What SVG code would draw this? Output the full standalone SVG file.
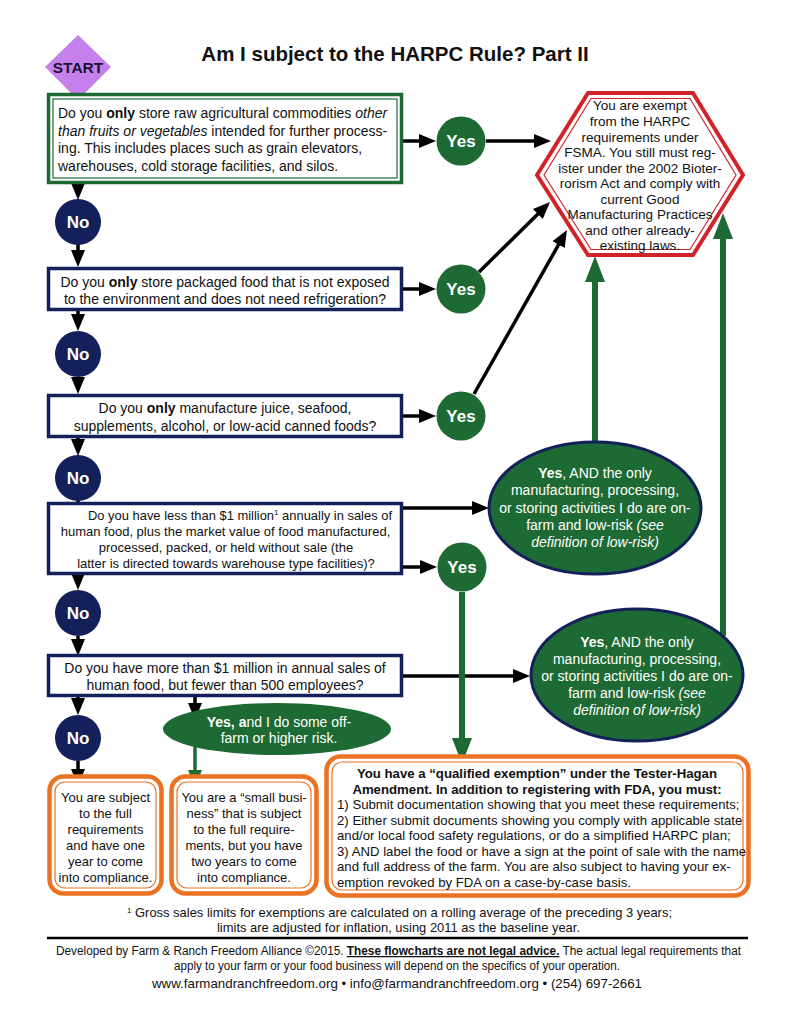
<svg xmlns="http://www.w3.org/2000/svg" width="791" height="1024" viewBox="0 0 791 1024">
<style>
text{font-family:"Liberation Sans",Arial,sans-serif;fill:#111;}
.t{font-size:14px;}
.s{font-size:13px;}
.c{text-anchor:middle;}
.w{fill:#fff;}
.b{font-weight:bold;}
.i{font-style:italic;}
.navy{fill:#fff;stroke:#13205a;stroke-width:3.5;}
.grn{fill:#fff;stroke:#1e6a34;}
.org{fill:#fff;stroke:#ec7223;}
.red{fill:#fff;stroke:#d2232a;}
.yes{fill:#1e6a34;}
.no{fill:#13205a;}
.lbl{font-size:17px;font-weight:bold;fill:#fff;text-anchor:middle;}
.k{stroke:#000;stroke-width:3.5;fill:none;marker-end:url(#ab);}
.gb{stroke:#1e6a34;stroke-width:6;fill:none;marker-end:url(#ag);}
.gs{stroke:#1e6a34;stroke-width:3.5;fill:none;marker-end:url(#as);}
</style>
<defs>
<marker id="ab" markerUnits="userSpaceOnUse" markerWidth="18" markerHeight="14" refX="10" refY="7" orient="auto"><path d="M0,0 L17,7 L0,14 z" fill="#000"/></marker>
<marker id="as" markerUnits="userSpaceOnUse" markerWidth="18" markerHeight="14" refX="10" refY="7" orient="auto"><path d="M0,0 L17,7 L0,14 z" fill="#1e6a34"/></marker>
<marker id="ag" markerUnits="userSpaceOnUse" markerWidth="26" markerHeight="20" refX="16" refY="10" orient="auto"><path d="M0,0 L26,10 L0,20 z" fill="#1e6a34"/></marker>
</defs>
<rect width="791" height="1024" fill="#fff"/>
<text x="395" y="61" class="c b" style="font-size:20.5px">Am I subject to the HARPC Rule? Part II</text>

<g id="connectors">
<path class="k" d="M78,184 V193"/>
<path class="k" d="M78,244 V260"/>
<path class="k" d="M78,311 V324"/>
<path class="k" d="M78,377 V387"/>
<path class="k" d="M78,438 V449"/>
<path class="k" d="M78,500 V515"/>
<path class="k" d="M78,566 V583"/>
<path class="k" d="M78,636 V649"/>
<path class="k" d="M78,690 V708"/>
<path class="k" d="M78,761 V779"/>
<path class="k" d="M195,697 V713"/>
<path class="k" d="M403,141 H429"/>
<path class="k" d="M486,141 H544"/>
<path class="k" d="M403,289 H429"/>
<path class="k" d="M403,416 H429"/>
<path class="k" d="M403,508 H482"/>
<path class="k" d="M403,567 H430"/>
<path class="k" d="M403,676 H523"/>
<path class="k" d="M479,272 L545,207"/>
<path class="k" d="M474,394 L563.5,236"/>
<path class="gb" d="M462,592 V754"/>
<path class="gb" d="M595,441 V266"/>
<path class="gb" d="M723,636 V223"/>
<path class="gs" d="M195,747 V780"/>
</g>

<g id="start">
<polygon points="78,35 111,67 78,100 45,67" fill="#c680ec"/>
<text x="78" y="72.5" class="c b" style="font-size:15.5px;fill:#1a1030">START</text>
</g>

<g id="q1">
<rect x="48.5" y="94.5" width="353" height="88" class="grn" stroke-width="3.5"/>
<rect x="53" y="99" width="344" height="79" class="grn" stroke-width="1.2"/>
<text class="t" x="58" y="118">Do you <tspan class="b">only</tspan> store raw agricultural commodities <tspan class="i">other</tspan></text>
<text class="t" x="58" y="135.5"><tspan class="i">than fruits or vegetables</tspan> intended for further process-</text>
<text class="t" x="58" y="153">ing. This includes places such as grain elevators,</text>
<text class="t" x="58" y="170.5">warehouses, cold storage facilities, and silos.</text>
</g>

<g id="q2">
<rect x="48.5" y="268.5" width="353" height="41" class="navy"/>
<text class="t c" x="225" y="287">Do you <tspan class="b">only</tspan> store packaged food that is not exposed</text>
<text class="t c" x="225" y="303.5">to the environment and does not need refrigeration?</text>
</g>

<g id="q3">
<rect x="48.5" y="395.5" width="353" height="41" class="navy"/>
<text class="t c" x="225" y="413">Do you <tspan class="b">only</tspan> manufacture juice, seafood,</text>
<text class="t c" x="225" y="431">supplements, alcohol, or low-acid canned foods?</text>
</g>

<g id="q4">
<rect x="48.5" y="503.5" width="353" height="70" class="navy"/>
<text class="s" x="88" y="520" textLength="304" lengthAdjust="spacingAndGlyphs">Do you have less than $1 million<tspan dy="-5" style="font-size:8px">1</tspan><tspan dy="5"> annually in sales of</tspan></text>
<text class="s c" x="225.5" y="536">human food, plus the market value of food manufactured,</text>
<text class="s c" x="226" y="552">processed, packed, or held without sale (the</text>
<text class="s c" x="226" y="567.5">latter is directed towards warehouse type facilities)?</text>
</g>

<g id="q5">
<rect x="48.5" y="655.5" width="353" height="40" class="navy"/>
<text class="t c" x="225" y="673">Do you have more than $1 million in annual sales of</text>
<text class="t c" x="225" y="690">human food, but fewer than 500 employees?</text>
</g>

<g id="no1"><circle cx="78" cy="222" r="23" class="no"/><text class="lbl" x="78" y="228">No</text></g>
<g id="no2"><circle cx="78" cy="354" r="23" class="no"/><text class="lbl" x="78" y="360">No</text></g>
<g id="no3"><circle cx="78" cy="478" r="23" class="no"/><text class="lbl" x="78" y="484">No</text></g>
<g id="no4"><circle cx="78" cy="613" r="23" class="no"/><text class="lbl" x="78" y="619">No</text></g>
<g id="no5"><circle cx="78" cy="738" r="23" class="no"/><text class="lbl" x="78" y="744">No</text></g>

<g id="yes1"><circle cx="461" cy="141" r="24.5" class="yes"/><text class="lbl" x="461" y="147">Yes</text></g>
<g id="yes2"><circle cx="461" cy="289" r="24.5" class="yes"/><text class="lbl" x="461" y="295">Yes</text></g>
<g id="yes3"><circle cx="461" cy="416" r="24.5" class="yes"/><text class="lbl" x="461" y="422">Yes</text></g>
<g id="yes4"><circle cx="462" cy="567" r="24.5" class="yes"/><text class="lbl" x="462" y="573">Yes</text></g>

<g id="exempt">
<polygon points="537,175 588,93 693,93 743,175 693,255 588,255" class="red" stroke-width="4"/>
<polygon points="544,175 591,98.5 690,98.5 736,175 690,249.5 591,249.5" fill="none" stroke="#d2232a" stroke-width="1.2"/>
<g style="font-size:13.5px">
<text class="c" x="640" y="110">You are exempt</text>
<text class="c" x="640" y="126">from the HARPC</text>
<text class="c" x="640" y="141.5">requirements under</text>
<text class="c" x="640" y="157">FSMA.  You still must reg-</text>
<text class="c" x="640" y="172.5">ister under the 2002 Bioter-</text>
<text class="c" x="640" y="188">rorism Act and comply with</text>
<text class="c" x="640" y="203.5">current Good</text>
<text class="c" x="640" y="219">Manufacturing Practices</text>
<text class="c" x="640" y="234.5">and other already-</text>
<text class="c" x="640" y="250">existing laws.</text>
</g>
</g>

<g id="yes-lowrisk1">
<ellipse cx="595" cy="508" rx="106" ry="66" fill="#1e6a34" stroke="#13205a" stroke-width="3"/>
<text class="t c w" x="595" y="478"><tspan class="b w">Yes</tspan>, AND the only</text>
<text class="t c w" x="595" y="495">manufacturing, processing,</text>
<text class="t c w" x="595" y="512.5">or storing activities I do are on-</text>
<text class="t c w" x="595" y="530">farm and low-risk <tspan class="i w">(see</tspan></text>
<text class="t c w i" x="595" y="547">definition of low-risk)</text>
</g>

<g id="yes-lowrisk2">
<ellipse cx="637" cy="675" rx="106" ry="66" fill="#1e6a34" stroke="#13205a" stroke-width="3"/>
<text class="t c w" x="637" y="647"><tspan class="b w">Yes</tspan>, AND the only</text>
<text class="t c w" x="637" y="664">manufacturing, processing,</text>
<text class="t c w" x="637" y="681">or storing activities I do are on-</text>
<text class="t c w" x="637" y="698">farm and low-risk <tspan class="i w">(see</tspan></text>
<text class="t c w i" x="637" y="715">definition of low-risk)</text>
</g>

<g id="yes-highrisk">
<ellipse cx="277" cy="729" rx="114" ry="26" fill="#1e6a34"/>
<text class="t c w" x="279" y="727"><tspan class="b w">Yes, a</tspan>nd I do some off-</text>
<text class="t c w" x="279" y="743">farm or higher risk.</text>
</g>

<g id="full">
<rect x="49.5" y="776.5" width="112" height="117" rx="14" class="org" stroke-width="4.5"/>
<rect x="55" y="782" width="101" height="106" rx="10" fill="none" stroke="#ec7223" stroke-width="1.2"/>
<text class="s c" x="105.5" y="802">You are subject</text>
<text class="s c" x="105.5" y="818">to the full</text>
<text class="s c" x="105.5" y="834">requirements</text>
<text class="s c" x="105.5" y="850">and have one</text>
<text class="s c" x="105.5" y="866">year to come</text>
<text class="s c" x="105.5" y="882">into compliance.</text>
</g>

<g id="small">
<rect x="171.5" y="776.5" width="145" height="117" rx="14" class="org" stroke-width="4.5"/>
<rect x="177" y="782" width="134" height="106" rx="10" fill="none" stroke="#ec7223" stroke-width="1.2"/>
<text class="s c" x="244" y="802">You are a “small busi-</text>
<text class="s c" x="244" y="818">ness” that is subject</text>
<text class="s c" x="244" y="834">to the full require-</text>
<text class="s c" x="244" y="850">ments, but you have</text>
<text class="s c" x="244" y="866">two years to come</text>
<text class="s c" x="244" y="882">into compliance.</text>
</g>

<g id="qualified">
<rect x="326.5" y="756.5" width="422" height="139" rx="14" class="org" stroke-width="4.5"/>
<rect x="332" y="762" width="411" height="128" rx="10" fill="none" stroke="#ec7223" stroke-width="1.2"/>
<g style="font-size:13.2px">
<text class="c b" x="537" y="778">You have a “qualified exemption” under the Tester-Hagan</text>
<text class="c b" x="537" y="793.5">Amendment. In addition to registering with FDA, you must:</text>
<text x="337" y="809">1) Submit documentation showing that you meet these requirements;</text>
<text x="337" y="824.5">2) Either submit documents showing you comply with applicable state</text>
<text x="337" y="840">and/or local food safety regulations, or do a simplified HARPC plan;</text>
<text x="337" y="855.5">3) AND label the food or have a sign at the point of sale with the name</text>
<text x="337" y="871">and full address of the farm. You are also subject to having your ex-</text>
<text x="337" y="886.5">emption revoked by FDA on a case-by-case basis.</text>
</g>
</g>

<g id="footer">
<text x="127" y="917" style="font-size:13px" textLength="545" lengthAdjust="spacingAndGlyphs"><tspan dy="-4" style="font-size:8px">1</tspan><tspan dy="4"> Gross sales limits for exemptions are calculated on a rolling average of the preceding 3 years;</tspan></text>
<text x="217" y="932" style="font-size:13px" textLength="363" lengthAdjust="spacingAndGlyphs">limits are adjusted for inflation, using 2011 as the baseline year.</text>
<line x1="47" y1="938" x2="748" y2="938" stroke="#000" stroke-width="2.5"/>
<text x="56" y="955" style="font-size:12.5px" textLength="685" lengthAdjust="spacingAndGlyphs">Developed by Farm &amp; Ranch Freedom Alliance ©2015.  <tspan class="b" text-decoration="underline">These flowcharts are not legal advice.</tspan>  The actual legal requirements that</text>
<text x="174" y="970" style="font-size:12.5px" textLength="446" lengthAdjust="spacingAndGlyphs">apply to your farm or your food business will depend on the specifics of your operation.</text>
<text x="152" y="988" style="font-size:13.5px" textLength="490" lengthAdjust="spacingAndGlyphs">www.farmandranchfreedom.org  •  info@farmandranchfreedom.org  •  (254) 697-2661</text>
</g>
</svg>
